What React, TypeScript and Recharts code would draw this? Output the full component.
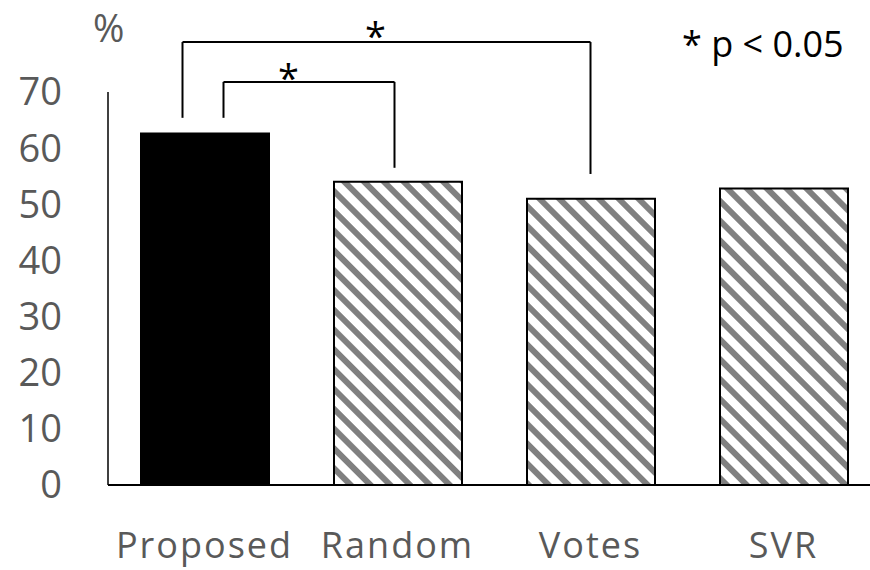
import React from "react";
import {
  BarChart,
  Bar,
  Cell,
  XAxis,
  YAxis,
  ReferenceLine,
  ReferenceDot,
} from "recharts";

const methods = ["Proposed", "Random", "Votes", "SVR"];
const accuracy = [62.6, 54.0, 51.0, 52.8];
const yTicks = [0, 10, 20, 30, 40, 50, 60, 70];

// significance brackets: ends anchored on categories (dx = px nudge off the bar centre), heights in %
const brackets = [
  { from: "Proposed", to: "Votes", fromDx: -22, toDx: 0, top: 78.9, fromFoot: 65.4, toFoot: 55.4, star: "Random", starDx: -22, starY: 79.8 },
  { from: "Proposed", to: "Random", fromDx: 19, toDx: -3, top: 71.8, fromFoot: 65.4, toFoot: 56.5, star: "Proposed", starDx: 84, starY: 72.3 },
];

const data = methods.map((name, i) => ({ name, value: accuracy[i] }));

const FONT = "'Open Sans', sans-serif";
const GREY = "#595959";

const shifted = (dx1: number, dx2: number) => (p: any) =>
  (
    <line
      x1={p.x1 + dx1}
      y1={p.y1}
      x2={p.x2 + dx2}
      y2={p.y2}
      stroke="#000"
      strokeWidth={2}
    />
  );

const star = (dx: number) => (p: any) =>
  (
    <text
      x={p.cx + dx}
      y={p.cy + 13}
      textAnchor="middle"
      fontSize={38}
      fontFamily={FONT}
      fill="#000"
    >
      *
    </text>
  );

const App: React.FC = () => {
  return (
    <div
      style={{
        position: "absolute",
        left: 0,
        top: 0,
        width: 870,
        height: 570,
        overflow: "hidden",
        background: "#fff",
        fontFamily: FONT,
      }}
    >
      <BarChart
        width={890}
        height={570}
        data={data}
        margin={{ top: 92, right: 10, bottom: 0, left: 0 }}
      >
        <defs>
          <pattern
            id="hatch"
            width="14"
            height="14"
            patternUnits="userSpaceOnUse"
            patternTransform="rotate(-45)"
          >
            <rect width="14" height="14" fill="#fff" />
            <rect x="0" width="6" height="14" fill="#808080" />
          </pattern>
        </defs>
        <XAxis
          dataKey="name"
          height={85}
          axisLine={{ stroke: "#000", strokeWidth: 2 }}
          tickLine={false}
          tickMargin={41}
          tick={{ fill: GREY, fontSize: 36, fontFamily: FONT, letterSpacing: 2 }}
        />
        <YAxis
          width={108}
          domain={[0, 70]}
          ticks={yTicks}
          interval={0}
          axisLine={{ stroke: "#000", strokeWidth: 1.5 }}
          tickLine={false}
          tickMargin={40}
          tick={{ fill: GREY, fontSize: 38, fontFamily: FONT }}
        />
        <Bar
          dataKey="value"
          barSize={128}
          stroke="#000"
          strokeWidth={2}
          isAnimationActive={false}
        >
          {data.map((d, i) => (
            <Cell key={d.name} fill={i === 0 ? "#000" : "url(#hatch)"} />
          ))}
        </Bar>
        {brackets.map((b, i) => (
          <ReferenceLine
            key={`l${i}`}
            ifOverflow="visible"
            segment={[
              { x: b.from, y: b.fromFoot },
              { x: b.from, y: b.top },
            ]}
            shape={shifted(b.fromDx, b.fromDx)}
          />
        ))}
        {brackets.map((b, i) => (
          <ReferenceLine
            key={`t${i}`}
            ifOverflow="visible"
            segment={[
              { x: b.from, y: b.top },
              { x: b.to, y: b.top },
            ]}
            shape={shifted(b.fromDx, b.toDx)}
          />
        ))}
        {brackets.map((b, i) => (
          <ReferenceLine
            key={`r${i}`}
            ifOverflow="visible"
            segment={[
              { x: b.to, y: b.top },
              { x: b.to, y: b.toFoot },
            ]}
            shape={shifted(b.toDx, b.toDx)}
          />
        ))}
        {brackets.map((b, i) => (
          <ReferenceDot
            key={`s${i}`}
            x={b.star}
            y={b.starY}
            r={0}
            ifOverflow="visible"
            shape={star(b.starDx)}
          />
        ))}
      </BarChart>
      {/* unit label and significance note */}
      <div
        style={{
          position: "absolute",
          left: 93,
          top: 2,
          fontSize: 38,
          color: GREY,
          lineHeight: "50px",
        }}
      >
        %
      </div>
      <div
        style={{
          position: "absolute",
          left: 682,
          top: 20,
          fontSize: 36,
          color: "#000",
          lineHeight: "48px",
          whiteSpace: "nowrap",
        }}
      >
        * p &lt; 0.05
      </div>
    </div>
  );
};

export default App;
